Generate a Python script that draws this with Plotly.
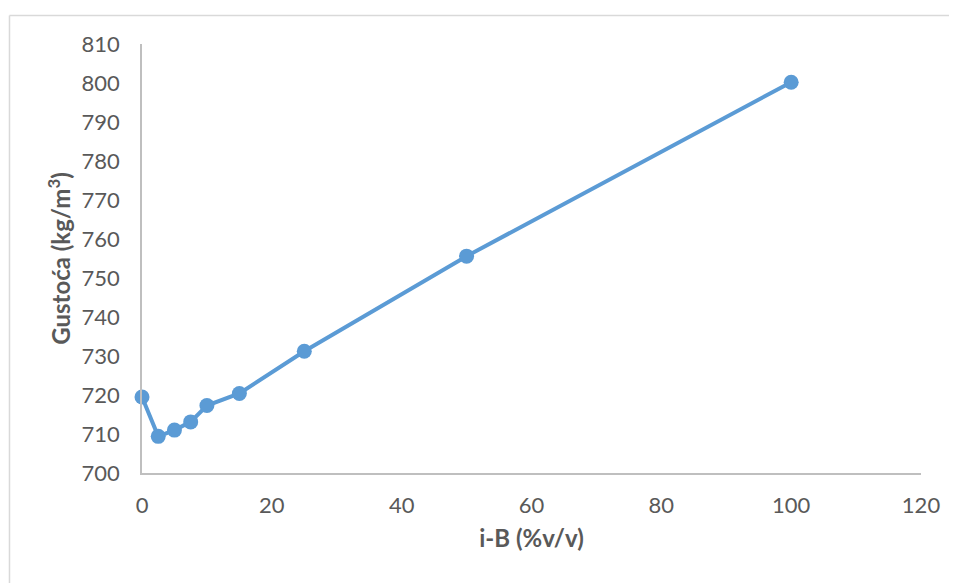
import plotly.graph_objects as go

x_ib = [0, 2.5, 5, 7.5, 10, 15, 25, 50, 100]
density = [719.5, 709.4, 711.0, 713.1, 717.3, 720.4, 731.2, 755.6, 800.2]

x_ticks = [0, 20, 40, 60, 80, 100, 120]
y_ticks = [700, 710, 720, 730, 740, 750, 760, 770, 780, 790, 800, 810]

FONT = "Lato, 'Open Sans', sans-serif"
TXT = "#595959"
AX = "#BFBFBF"

fig = go.Figure()
fig.add_trace(go.Scatter(
    x=x_ib, y=density, mode="lines+markers",
    line=dict(color="#5B9BD5", width=4),
    marker=dict(color="#5B9BD5", size=15),
    cliponaxis=False, showlegend=False,
))

fig.update_layout(
    width=949, height=575,
    margin=dict(l=134, r=36, t=36, b=110),
    paper_bgcolor="white", plot_bgcolor="white",
    font=dict(family=FONT, color=TXT, size=22),
    xaxis=dict(
        range=[0, 120], tickvals=x_ticks, showgrid=False, zeroline=False,
        showline=True, linecolor=AX, linewidth=1.5, ticks="",
        ticklabelstandoff=12,
        tickfont=dict(size=22, color=TXT),
        title=dict(text="<b>i-B (%v/v)</b>", font=dict(size=24, color=TXT), standoff=13),
    ),
    yaxis=dict(
        range=[700, 810], tickvals=y_ticks, showgrid=False, zeroline=False,
        showline=True, linecolor=AX, linewidth=1.5, ticks="",
        ticklabelstandoff=16,
        tickfont=dict(size=22, color=TXT),
        title=dict(text="<b>Gustoća (kg/m<sup>3</sup>)</b>", font=dict(size=24, color=TXT), standoff=4),
    ),
)

# outer chart-area border (left and top edges visible)
fig.add_shape(type="line", xref="paper", yref="paper",
              x0=-0.1701, x1=-0.1701, y0=-0.5, y1=1.0664,
              line=dict(color="#D9D9D9", width=1.5))
fig.add_shape(type="line", xref="paper", yref="paper",
              x0=-0.1701, x1=1.2, y0=1.0664, y1=1.0664,
              line=dict(color="#D9D9D9", width=1.5))

fig.write_html("out.html")
